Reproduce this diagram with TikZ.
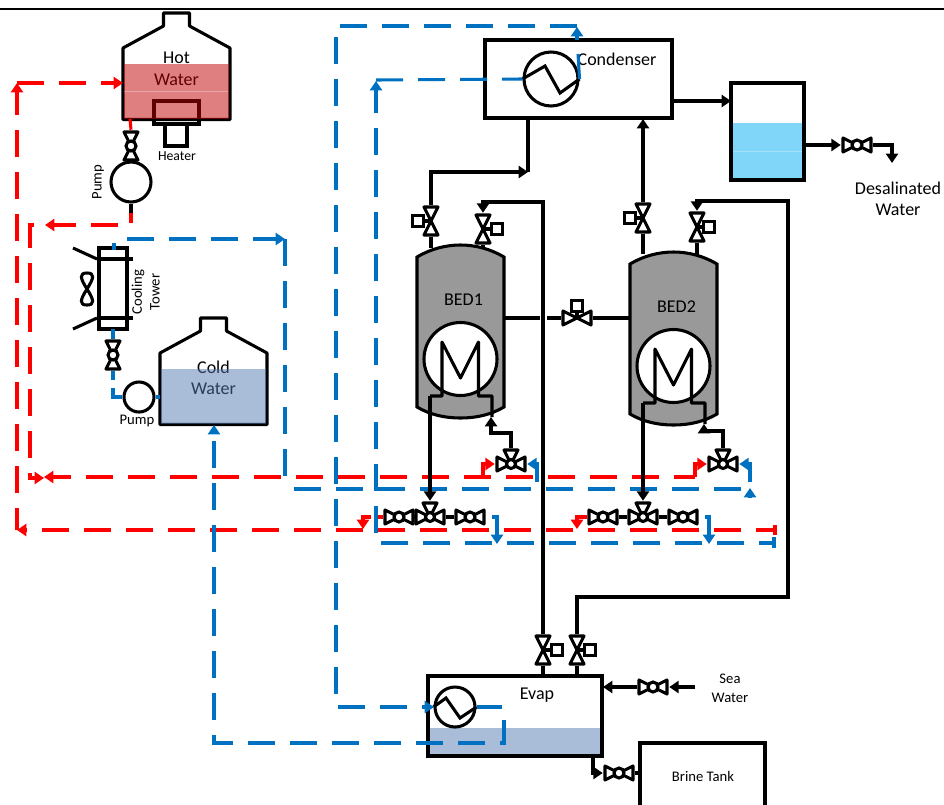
\documentclass[tikz,border=0pt]{standalone}
\usepackage{fontspec}
\setmainfont{Carlito}
\usetikzlibrary{arrows.meta}

\definecolor{hotfill}{HTML}{C00000}
\definecolor{coldfill}{HTML}{5379B1}
\definecolor{coldflat}{HTML}{A9BCD8}
\definecolor{freshfill}{HTML}{7FD6F9}
\definecolor{hotred}{HTML}{FF0000}
\definecolor{coldblue}{HTML}{0070C0}

\begin{document}
\begin{tikzpicture}[
    x=0.75pt,
    y=-0.75pt,
    pipe/.style={
        draw=black,
        line width=2.3pt
    },
    hotpipe/.style={
        draw=hotred,
        line width=2.3pt
    },
    coldpipe/.style={
        draw=coldblue,
        line width=2.3pt
    },
    hotline/.style={
        hotpipe,
        dash pattern=on 20.25pt off 11.25pt
    },
    coldline/.style={
        coldpipe,
        dash pattern=on 20.25pt off 11.25pt
    },
    arrow/.style={
        -{Triangle[length=7pt,width=9pt]}
    },
    box/.style={
        pipe,
        inner sep=0pt
    },
    ring/.style={
        pipe,
        circle,
        fill=white,
        inner sep=0pt
    },
    act/.style={
        pipe,
        fill=white,
        inner sep=0pt,
        minimum size=8.5pt
    },
    label/.style={
        inner sep=0pt,
        align=center,
        font=\fontsize{13.5}{16}\selectfont
    },
    smalllabel/.style={
        inner sep=0pt,
        align=center,
        font=\fontsize{11}{14}\selectfont
    },
    vbody/.style={
        inner sep=0pt,
        minimum width=13.5pt,
        minimum height=24pt
    },
    hbody/.style={
        inner sep=0pt,
        minimum width=24pt,
        minimum height=13.5pt
    },
    vvalve/.style={
        vbody,
        path picture={
            \draw[pipe, fill=white, line join=round, shift={(path picture bounding box.center)}]
                (-7,-14) -- (7,-14) -- (-7,14) -- (7,14) -- cycle;
        }
    },
    hvalve/.style={
        hbody,
        path picture={
            \draw[pipe, fill=white, line join=round, shift={(path picture bounding box.center)}]
                (-14,-7) -- (14,7) -- (14,-7) -- (-14,7) -- cycle;
        }
    },
    ballv/.style={
        vbody,
        path picture={
            \begin{scope}[shift={(path picture bounding box.center)}]
                \draw[pipe, fill=white, line join=round] (-7,-14) -- (7,-14) -- (-7,14) -- (7,14) -- cycle;
                \draw[pipe, fill=white] (0,0) circle (5);
            \end{scope}
        }
    },
    ballh/.style={
        hbody,
        path picture={
            \begin{scope}[shift={(path picture bounding box.center)}]
                \draw[pipe, fill=white, line join=round] (-14,-7) -- (14,7) -- (14,-7) -- (-14,7) -- cycle;
                \draw[pipe, fill=white] (0,0) circle (5);
            \end{scope}
        }
    },
    tvalve/.style={
        inner sep=0pt,
        minimum size=24pt,
        path picture={
            \begin{scope}[shift={(path picture bounding box.center)}]
                \draw[pipe, fill=white, line join=round] (-14,-7) -- (14,7) -- (14,-7) -- (-14,7) -- cycle;
                \draw[pipe, fill=white, line join=round] (0,0) -- (-7,-14) -- (7,-14) -- cycle;
                \draw[pipe, fill=white] (0,0) circle (4.5);
            \end{scope}
        }
    }
]
\useasboundingbox (0,0) rectangle (944,804);

\draw[line width=1.7pt] (0,9) -- (944,9);

% heater sits under the water fill
\draw[pipe] (154,101) rectangle (199,124);
\draw[pipe] (165,124) rectangle (187,146);

% tanks
\foreach \tx/\ty/\topword/\tankfill/\wordy in {176.5/13/Hot/hotfill/45, 213.5/318/Cold/coldfill/49} {
    \begin{scope}[shift={(\tx,\ty)}]
        \draw[pipe, line join=round] (-53.5,35) -- (-13,13) -- (-13,0) -- (13,0) -- (13,13)
            -- (53.5,35) -- (53.5,106.5) -- (-53.5,106.5) -- cycle;
        \node[label] at (0,\wordy) {\topword};
        \node[label] at (0,\wordy+22) {Water};
        \fill[\tankfill, opacity=0.5] (-52.5,50.5) rectangle (52.5,105.5);
    \end{scope}
}
\draw[white, opacity=0.3, line width=0.6pt] (124,91) -- (228,91);

\node[label, font=\fontsize{10.3}{12}\selectfont] (heaterlabel) at (177,156) {Heater};
\node[smalllabel, rotate=90] (pumphotlabel) at (98,182) {Pump};
\node[smalllabel] (pumpcoldlabel) at (137,421) {Pump};
\node[smalllabel, rotate=90] (coolinglabel) at (138,292) {Cooling};
\node[smalllabel, rotate=90] (towerlabel) at (155,292) {Tower};

% cooling tower
\node[box, minimum width=21pt, minimum height=60.75pt] (tower) at (113,288.5) {};
\draw[pipe] (97,259) -- (133,259);
\draw[pipe] (97,318) -- (133,318);
\draw[pipe] (73,248) -- (97,259);
\draw[pipe] (73,329) -- (97,318);
\draw[pipe, line join=round] (87,289) .. controls (80,278) and (79,273) .. (87,273)
    .. controls (95,273) and (94,278) .. (87,289)
    .. controls (80,300) and (79,305) .. (87,305)
    .. controls (95,305) and (94,300) .. cycle;

% condenser and fresh water tank
\node[box, minimum width=140.25pt, minimum height=58.5pt] (cond) at (578.5,79) {};
\node[ring, minimum size=40.5pt] (hxcond) at (551,79) {};
\draw[pipe] (hxcond.west) -- (545,66) -- (560,93) -- (hxcond.east);
\node[label] (condlabel) at (617,59) {Condenser};
\fill[freshfill] (731,123) rectangle (804,180);
\draw[white, opacity=0.3, line width=0.6pt] (732,151) -- (803,151);
\node[box, minimum width=54.75pt, minimum height=72.75pt] (fresh) at (767.5,131.5) {};
\node[label] (deslabel) at (898,199) {Desalinated\\Water};

% beds
\foreach \bedname/\bx/\by/\bedtext in {bedone/460.5/359/BED1, bedtwo/673.5/366/BED2} {
    \begin{scope}[shift={(\bx,\by)}]
        \draw[pipe, fill=black!40] (-43.5,-102) .. controls (-30,-110) and (-15,-114) .. (0,-114)
            .. controls (15,-114) and (30,-110) .. (43.5,-102) -- (43.5,48)
            .. controls (30,56) and (15,59) .. (0,59) .. controls (-15,59) and (-30,56) .. (-43.5,48) -- cycle;
        \node[label] at (3,-59) {\bedtext};
        \node[ring, minimum size=54.75pt] (\bedname hx) at (0,0) {};
        \coordinate (\bedname foot) at (-30.5,37);
        \draw[pipe, line join=round] (\bedname foot) -- (-18.5,37) -- (-18.5,-17) -- (0,19) -- (18,-17)
            -- (18,37) -- (31.5,37) -- (31.5,58);
    \end{scope}
}

% valves on the beds
\node[vvalve] (vbedonein) at (431,221) {};
\node[vvalve] (vbedoneout) at (483,229) {};
\node[vvalve] (vbedtwoin) at (643,218) {};
\node[vvalve] (vbedtwoout) at (697,227) {};
\node[vvalve] (vevapone) at (543,650) {};
\node[vvalve] (vevaptwo) at (577,650) {};
\node[hvalve] (vlink) at (577,318) {};
\node[act] (abedonein) at (418,221) {};
\node[act] (abedoneout) at (497,229) {};
\node[act] (abedtwoin) at (630,218) {};
\node[act] (abedtwoout) at (709,227) {};
\node[act] (aevapone) at (557,650) {};
\node[act] (aevaptwo) at (590,650) {};
\node[act] (alink) at (577,306) {};

% ball valves
\node[ballv] (bhot) at (131,146) {};
\node[ballv] (bcool) at (113,355) {};
\node[ballh] (bdes) at (857,145) {};
\node[ballh] (bsea) at (653,687) {};
\node[ballh] (bbrine) at (619,773) {};
\node[ballh] (binone) at (399,517) {};
\node[ballh] (boutone) at (470,517) {};
\node[ballh] (bintwo) at (603,517) {};
\node[ballh] (bouttwo) at (683,517) {};
\node[tvalve] (tbedone) at (430,517) {};
\node[tvalve] (tbedtwo) at (643,517) {};
\node[tvalve] (tretone) at (511,464) {};
\node[tvalve] (trettwo) at (723,464) {};

% pumps
\node[ring, minimum size=30pt] (pumphot) at (131,182) {};
\node[ring, minimum size=22.5pt] (pumpcold) at (139,397) {};

% evaporator and brine tank
\fill[coldflat] (429,728) rectangle (601,755);
\node[box, minimum width=130.5pt, minimum height=60pt] (evap) at (515,716) {};
\node[ring, minimum size=30pt] (hxevap) at (455,707) {};
\draw[pipe] (hxevap.west) -- (446,698) -- (460,718) -- (hxevap.east);
\node[label] (evaplabel) at (537,695) {Evap};
\node[smalllabel] (sealabel) at (730,688) {Sea\\Water};
\node[box, minimum width=93.75pt, minimum height=54pt] (brine) at (702.5,779) {};
\node[smalllabel] (brinelabel) at (703,776) {Brine Tank};

% end points
\coordinate (hotin) at (123,83);
\coordinate (hotout) at (130,119);
\coordinate (hotret) at (131,223);
\coordinate (coldin) at (214,425);
\coordinate (coldpump) at (160,397);
\coordinate (towertop) at (114,243);
\coordinate (towerout) at (113,329);
\coordinate (railred) at (775,530);
\coordinate (railblue) at (774,543);
\coordinate (outerup) at (17,530);
\coordinate (outertop) at (17,83);
\coordinate (innerred) at (31,478);
\coordinate (condtop) at (577,26);
\coordinate (condleft) at (376,80);
\coordinate (evapleft) at (434,707);
\coordinate (evapret) at (504,720);
\coordinate (condout) at (672,101);
\coordinate (condoutb) at (528,118);
\coordinate (condbend) at (528,172);
\coordinate (condin) at (643,119);
\coordinate (freshin) at (731,101);
\coordinate (freshout) at (804,145);
\coordinate (desend) at (892,163);
\coordinate (seaend) at (695,687);
\coordinate (evapin) at (603,687);
\coordinate (evapdrain) at (593,756);
\coordinate (linkleft) at (504,318);
\coordinate (linkright) at (629,318);

% hot water lines
\draw[hotpipe] (hotout) -- (bhot.north);
\draw[pipe] (pumphot.south) -- (131,213);
\draw[hotpipe] (131,213) -- (hotret);
\draw[hotline] (118,225) -- (30,225) -- (30,478) -- (innerred);
\draw[hotline, arrow] (56,225) -- (45,225);
\draw[hotpipe, arrow] (innerred) -- (44,478);
\draw[hotline, arrow, dash phase=4.5pt] (695,477) -- (44,477);
\draw[hotpipe, arrow] (483,477) |- (tretone.west);
\draw[hotpipe, arrow] (695,477) |- (trettwo.west);
\draw[hotline, arrow, dash phase=6pt] (railred) -- (outerup);
\draw[hotline, arrow, dash phase=3.75pt] (outerup) -- (outertop);
\draw[hotline, arrow] (outertop) -- (hotin);
\draw[hotpipe] (binone.west) -- (378,517);
\draw[hotpipe, arrow] (371,517) -| (363,529);
\draw[hotpipe, arrow] (bintwo.west) -| (577,529);
\draw[hotpipe] (775,525) -- (775,535);

% cooling water lines
\draw[coldpipe] (towertop) -- (114,250);
\draw[coldline, arrow] (127,239) -- (285,239);
\draw[coldline] (285,239) -- (285,476);
\draw[coldline, dash phase=25.5pt] (286,489) -- (750,489);
\draw[coldpipe, arrow] (750,497) -- (750,488);
\draw[coldpipe] (towerout) -- (bcool.north);
\draw[coldpipe] (bcool.south) -- (113,380);
\draw[coldpipe] (113,388) |- (pumpcold.west);
\draw[coldpipe] (pumpcold.east) -- (coldpump);
\draw[coldline, arrow] (evapret) -- (504,743) -- (214,743) -- (coldin);
\draw[coldline] (hxevap.east) -- (502,707);
\draw[coldline, arrow] (condtop) -- (336,26) -- (336,707) -- (evapleft);
\draw[coldpipe] (hxcond.east) -- (578,54);
\draw[coldpipe, arrow] (577,40) -- (577,27);
\draw[coldline] (condleft) -- (hxcond.west);
\draw[coldline, arrow] (376,533) -- (376,81);
\draw[coldline] (381,543) -- (railblue);
\draw[coldpipe] (774,537) -- (774,548);
\draw[coldpipe, arrow] (537,482) |- (tretone.east);
\draw[coldpipe, arrow] (750,482) |- (trettwo.east);
\draw[coldpipe, arrow] (492,517) -| (497,544);
\draw[coldpipe, arrow] (705,517) -| (709,544);

% vapour and liquid lines
\draw[pipe, arrow] (condout) -- (freshin);
\draw[pipe, arrow] (freshout) -- (bdes.west);
\draw[pipe, arrow] (bdes.east) -| (desend);
\draw[pipe, arrow] (vbedonein.north) |- (condbend);
\draw[pipe] (condoutb) -- (condbend);
\draw[pipe, arrow] (vbedtwoin.north) -- (condin);
\draw[pipe] (vbedonein.south) -- (431,248);
\draw[pipe] (vbedoneout.south) -- (483,248);
\draw[pipe] (vbedtwoin.south) -- (643,254);
\draw[pipe] (vbedtwoout.south) -- (697,256);
\draw[pipe, arrow] (vevapone.north) -- (543,202) -| (vbedoneout.north);
\draw[pipe, arrow] (vevaptwo.north) |- (788,597) -- (788,201) -| (vbedtwoout.north);
\draw[pipe] (vevapone.south) -- (543,676);
\draw[pipe] (vevaptwo.south) -- (577,676);
\draw[pipe] (linkleft) -- (540,318);
\draw[pipe] (547,318) -- (vlink.west);
\draw[pipe] (vlink.east) -- (linkright);
\draw[pipe, arrow] (bedonefoot) -- (tbedone.north);
\draw[pipe, arrow] (bedtwofoot) -- (tbedtwo.north);
\draw[pipe, arrow] (tretone.north) |- (491,433) -- (491,417);
\draw[pipe, arrow] (trettwo.north) |- (704,431) -- (704,424);
\draw[pipe] (binone.east) -- (tbedone.west);
\draw[pipe] (tbedone.east) -- (boutone.west);
\draw[pipe] (bintwo.east) -- (tbedtwo.west);
\draw[pipe] (tbedtwo.east) -- (bouttwo.west);
\draw[pipe, arrow] (seaend) -- (bsea.east);
\draw[pipe, arrow] (bsea.west) -- (evapin);
\draw[pipe, arrow] (evapdrain) |- (bbrine.west);
\draw[pipe] (bbrine.east) -- (640,773);

% actuators
\draw[pipe] (abedonein.east) -- (vbedonein.center);
\draw[pipe] (abedoneout.west) -- (vbedoneout.center);
\draw[pipe] (abedtwoin.east) -- (vbedtwoin.center);
\draw[pipe] (abedtwoout.west) -- (vbedtwoout.center);
\draw[pipe] (aevapone.west) -- (vevapone.center);
\draw[pipe] (aevaptwo.west) -- (vevaptwo.center);
\draw[pipe] (alink.south) -- (vlink.center);

\end{tikzpicture}
\end{document}
